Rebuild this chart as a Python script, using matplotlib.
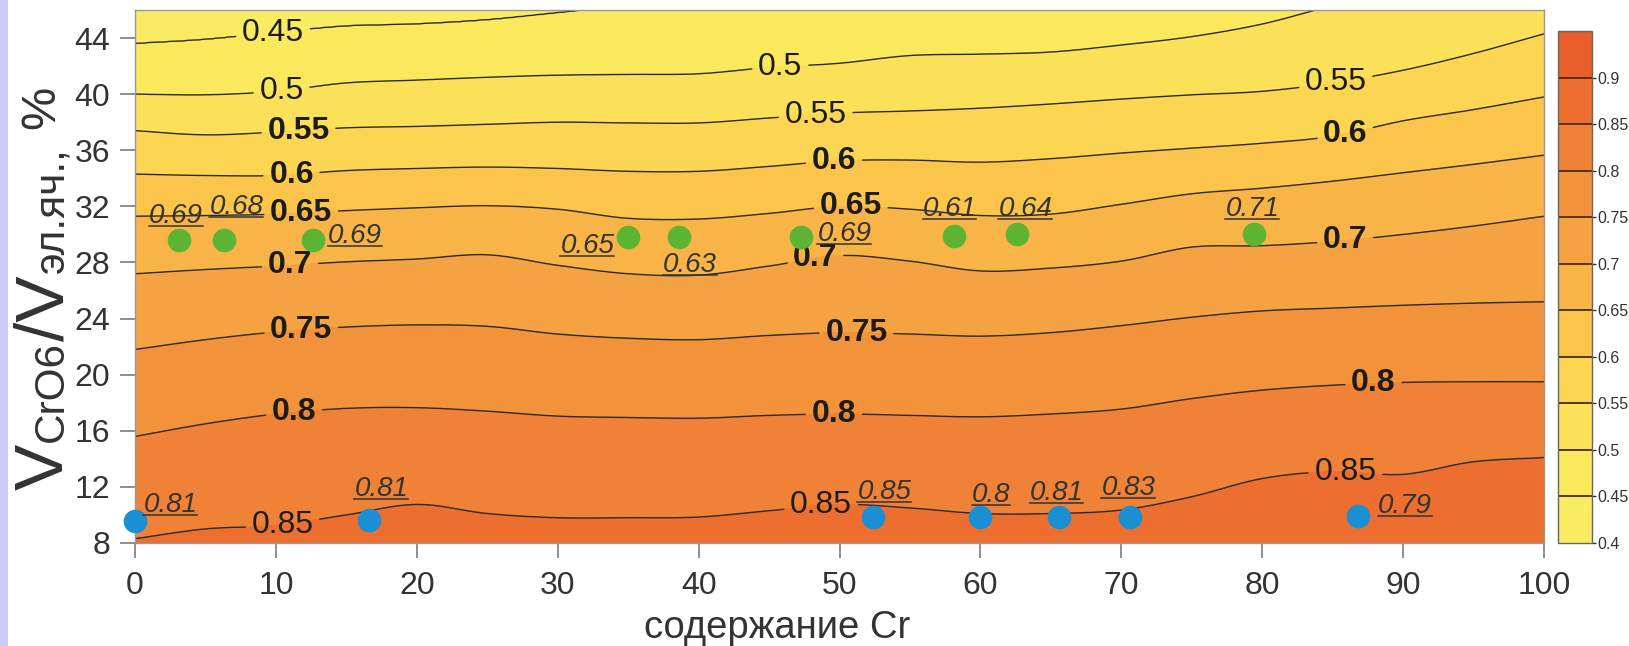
import numpy as np
import matplotlib
matplotlib.use("Agg")
import matplotlib.pyplot as plt
from matplotlib.lines import Line2D
from matplotlib.patches import Rectangle

plt.rcParams['font.family'] = ['Liberation Sans', 'DejaVu Sans']

# ---------------- data ----------------
# x positions at which the iso-lines were read
x_nodes = [0, 5, 10, 15, 20, 25, 30, 35, 40, 45, 50, 55, 60, 65, 70, 75, 80, 85, 90, 95, 100]
# y position of each iso-line (value of V_CrO6/V_cell) along x
iso_045 = [43.6, 43.9, 44.4, 44.85, 45.0, 45.3, 45.8, 46.3, 46.6, 46.9, 47.2, 47.6, 48.0, 48.4, 48.8, 49.2, 49.8, 50.4, 51.0, 51.6, 52.2]
iso_050 = [40.0, 39.95, 40.2, 40.8, 41.0, 41.2, 41.35, 41.4, 41.45, 41.9, 42.2, 42.75, 42.85, 43.0, 43.5, 44.1, 45.0, 46.3, 47.3, 48.2, 49.0]
iso_055 = [37.4, 37.1, 37.3, 37.6, 37.7, 37.85, 38.0, 37.95, 37.95, 38.3, 38.65, 38.8, 39.0, 39.3, 39.65, 39.95, 40.2, 40.8, 41.7, 42.9, 44.3]
iso_060 = [34.3, 34.2, 34.2, 34.55, 34.7, 34.8, 34.7, 34.5, 34.5, 34.85, 35.25, 35.3, 35.15, 35.4, 35.8, 36.15, 36.5, 37.0, 38.1, 38.9, 39.8]
iso_065 = [31.3, 31.35, 31.45, 31.7, 31.9, 32.05, 31.8, 31.15, 31.1, 31.5, 32.0, 31.8, 31.35, 31.45, 32.15, 32.9, 33.3, 33.8, 34.4, 35.0, 35.65]
iso_070 = [27.2, 27.5, 27.75, 28.05, 28.25, 28.55, 27.8, 27.2, 27.1, 27.75, 28.5, 28.1, 27.4, 27.6, 28.1, 29.1, 29.2, 29.5, 30.0, 30.6, 31.3]
iso_075 = [21.8, 22.5, 23.05, 23.4, 23.55, 23.45, 22.9, 22.6, 22.5, 22.8, 23.0, 22.9, 22.75, 23.0, 23.5, 24.1, 24.55, 24.75, 24.95, 25.1, 25.2]
iso_080 = [15.6, 16.5, 17.2, 17.6, 17.65, 17.4, 17.05, 16.95, 16.9, 17.1, 17.2, 17.1, 17.0, 17.2, 17.55, 18.3, 18.9, 19.25, 19.45, 19.5, 19.5]
iso_085 = [8.3, 9.0, 9.25, 10.0, 10.75, 10.1, 9.8, 9.8, 9.85, 10.3, 10.75, 10.5, 10.1, 10.1, 10.35, 11.3, 12.6, 13.1, 12.9, 13.8, 14.1]
iso_040_y = 60.0   # 0.40 lies above the plotted window
iso_090_y = 4.0    # 0.90 lies below the plotted window

iso_levels = [0.45, 0.50, 0.55, 0.60, 0.65, 0.70, 0.75, 0.80, 0.85]
band_bounds = [0.40, 0.45, 0.50, 0.55, 0.60, 0.65, 0.70, 0.75, 0.80, 0.85, 0.90, 0.95]
cbar_ticks = [0.40, 0.45, 0.50, 0.55, 0.60, 0.65, 0.70, 0.75, 0.80, 0.85, 0.90]

# measured points
green_x = [3.1, 6.3, 12.6, 35.0, 38.6, 47.3, 58.1, 62.6, 79.4]
green_y = [29.6, 29.6, 29.6, 29.85, 29.85, 29.85, 29.9, 30.0, 30.05]
green_lbl = ['0.69', '0.68', '0.69', '0.65', '0.63', '0.69', '0.61', '0.64', '0.71']
blue_x = [0.0, 16.6, 52.4, 60.0, 65.6, 70.6, 86.8]
blue_y = [9.55, 9.65, 9.85, 9.85, 9.85, 9.85, 9.95]
blue_lbl = ['0.81', '0.81', '0.85', '0.8', '0.81', '0.83', '0.79']

x_ticks = [0, 10, 20, 30, 40, 50, 60, 70, 80, 90, 100]
y_ticks = [8, 12, 16, 20, 24, 28, 32, 36, 40, 44]

# ---------------- style / layout ----------------
band_colors = ['#f9ec62', '#fae85d', '#fbe159', '#fcd552', '#fbc54b', '#f8b446',
               '#f5a342', '#f2933c', '#ef8236', '#ec6f2f', '#e95d2a']
W, H = 1629, 646
# (x, y, bold) placement of the iso-line labels
iso_label_spots = [(9.8, 44.3, False), (10.4, 40.3, False), (45.8, 41.9, False),
                   (11.6, 37.5, True), (48.3, 38.6, False), (85.2, 41.0, False),
                   (11.1, 34.4, True), (49.6, 35.2, True), (85.9, 37.2, True),
                   (11.8, 31.5, True), (50.8, 32.0, True),
                   (11.0, 27.8, True), (48.3, 28.3, True), (85.9, 29.5, True),
                   (11.8, 23.2, True), (51.2, 23.0, True),
                   (11.3, 17.3, True), (49.6, 17.2, True), (87.9, 19.4, True),
                   (10.5, 9.2, False), (48.7, 10.6, False), (85.9, 13.0, False)]
# label offsets (points) and alignment for the measured points
green_off = [(-2, 12.5, 'center'), (9, 19, 'center'), (11, -2, 'left'), (-10, -12, 'right'),
             (8, -25.5, 'center'), (11.5, -3.5, 'left'), (-3, 14, 'center'), (6, 13, 'center'),
             (-1, 13, 'center')]
blue_off = [(6, 7, 'left'), (9, 17, 'center'), (8, 13, 'center'), (7.5, 11, 'center'),
            (-2, 12, 'center'), (-1, 16, 'center'), (14.4, 2, 'left')]


def hermite(xk, yk, xq):
    xk = np.asarray(xk, float)
    yk = np.asarray(yk, float)
    m = np.gradient(yk, xk)
    idx = np.clip(np.searchsorted(xk, xq) - 1, 0, len(xk) - 2)
    h = xk[idx + 1] - xk[idx]
    t = (xq - xk[idx]) / h
    h00 = 2 * t**3 - 3 * t**2 + 1
    h10 = t**3 - 2 * t**2 + t
    h01 = -2 * t**3 + 3 * t**2
    h11 = t**3 - t**2
    return h00 * yk[idx] + h10 * h * m[idx] + h01 * yk[idx + 1] + h11 * h * m[idx + 1]


# build the field from the iso-line positions
xf = np.linspace(0, 100, 601)
yf = np.linspace(8, 46, 500)
lines = [iso_045, iso_050, iso_055, iso_060, iso_065, iso_070, iso_075, iso_080, iso_085]
P = np.array([hermite(x_nodes, l, xf) for l in lines])
pos_all = np.vstack([np.full_like(xf, iso_040_y), P, np.full_like(xf, iso_090_y)])
lev_all = np.array([0.40] + iso_levels + [0.90])
Z = np.empty((yf.size, xf.size))
for j in range(xf.size):
    Z[:, j] = np.interp(yf, pos_all[::-1, j], lev_all[::-1])

fig = plt.figure(figsize=(W / 100, H / 100), dpi=100)
fig.add_artist(Rectangle((0, 0), 7.5 / W, 1, transform=fig.transFigure,
                         facecolor='#ccccf8', edgecolor='none', zorder=0))

ax = fig.add_axes([135 / W, (H - 543) / H, 1409 / W, 533 / H])
cf = ax.contourf(xf, yf, Z, levels=band_bounds, colors=band_colors)
cs = ax.contour(xf, yf, Z, levels=iso_levels, colors='#2a2a2a', linewidths=1.0)
ax.clabel(cs, manual=[(p[0], p[1]) for p in iso_label_spots], inline=True,
          inline_spacing=6, fmt=lambda v: f'{v:g}', fontsize=23, colors='#1c1c1c')
for t, spot in zip(cs.labelTexts, iso_label_spots):
    t.set_fontweight('bold' if spot[2] else 'normal')
    t.set_rotation(0)

ax.set_xlim(0, 100)
ax.set_ylim(8, 46)
ax.set_xticks(x_ticks)
ax.set_yticks(y_ticks)
ax.tick_params(axis='both', direction='out', length=11, width=1.1, color='#707070',
               labelsize=23, labelcolor='#333333')
ax.tick_params(axis='x', pad=9)
ax.tick_params(axis='y', pad=7)
for sp in ax.spines.values():
    sp.set_edgecolor('#999999')
    sp.set_linewidth(1.0)

ax.scatter(green_x, green_y, s=290, color='#5cb432', linewidths=0, zorder=5, clip_on=False)
ax.scatter(blue_x, blue_y, s=290, color='#1a8fd4', linewidths=0, zorder=5, clip_on=False)

anns = []
for xs, ys, lbs, offs in ((green_x, green_y, green_lbl, green_off), (blue_x, blue_y, blue_lbl, blue_off)):
    for x, y, s, (dx, dy, ha) in zip(xs, ys, lbs, offs):
        a = ax.annotate(s, xy=(x, y), xytext=(dx, dy), textcoords='offset points',
                        ha=ha, va='baseline', fontsize=20, style='italic', color='#333333',
                        zorder=6, annotation_clip=False)
        anns.append((a, x, y, dy))

# colorbar
cax = fig.add_axes([1558 / W, (H - 543) / H, 34 / W, 512 / H])
cb = fig.colorbar(cf, cax=cax, ticks=cbar_ticks, drawedges=True)
cb.ax.set_yticklabels([f'{v:g}' for v in cbar_ticks])
cb.ax.tick_params(length=3, width=1, color='#333333', labelsize=11.5, pad=1, labelcolor='#333333')
cb.outline.set_edgecolor('#666666')
cb.outline.set_linewidth(1.0)
cb.dividers.set_color('#4a2a12')
cb.dividers.set_linewidth(1.3)

# x label
fig.text(777 / W, 8 / H, 'содержание Cr', ha='center', va='baseline', fontsize=27.5, color='#333333')

# y label built from pieces of different sizes
fig.canvas.draw()
renderer = fig.canvas.get_renderer()
ylabel_parts = [('V', 50, 0, 0), ('CrO6', 30.5, 0, 2), ('/V', 50, 0, 0), ('эл.яч.,', 30.5, 0, 2), ('%', 35, 9, 18)]
cur = 156.0
base_x = 63.0
for s, size, raise_px, gap in ylabel_parts:
    t = fig.text((base_x - raise_px) / W, (cur + gap) / H, s, rotation=90, rotation_mode='anchor',
                 ha='left', va='baseline', fontsize=size, color='#333333')
    bb = t.get_window_extent(renderer)
    cur = bb.y1

# underline the point labels
fig.canvas.draw()
for a, x, y, dy in anns:
    bb = a.get_window_extent(renderer)
    base = ax.transData.transform((x, y))[1] + dy * 100 / 72
    yl = base - 3
    fig.add_artist(Line2D([bb.x0 / W, bb.x1 / W], [yl / H, yl / H], transform=fig.transFigure,
                          color='#333333', linewidth=1.1, zorder=7))

fig.savefig('out.png', dpi=100)
